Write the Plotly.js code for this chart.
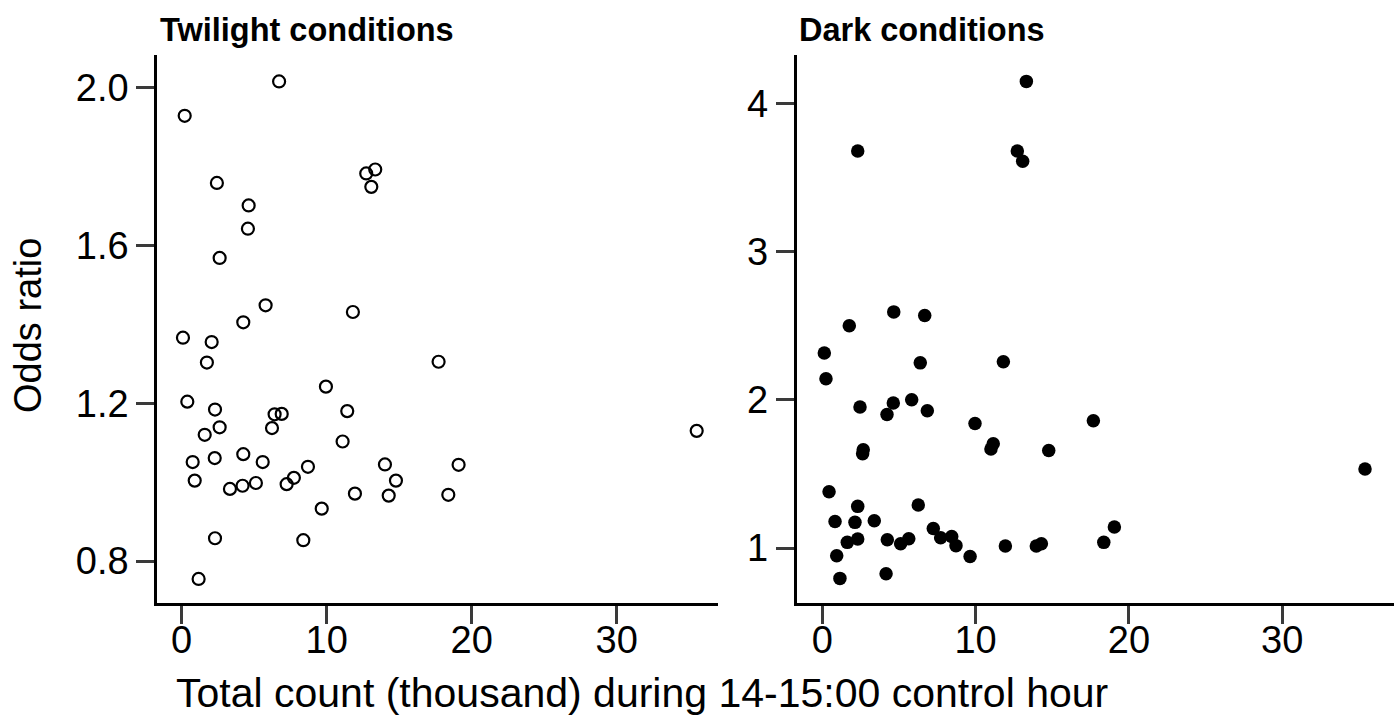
<!DOCTYPE html>
<html>
<head>
<meta charset="utf-8">
<script src="https://cdn.plot.ly/plotly-3.0.1.min.js"></script>
<style>html,body{margin:0;padding:0;background:#fff;}#chart{width:1400px;height:719px;}</style>
</head>
<body>
<div id="chart"></div>
<script>
// Twilight conditions (open circles)
const twilightX = [6.72, 0.21, 2.43, 4.62, 4.57, 2.62, 12.73, 13.35, 13.08, 5.79,
  11.81, 4.25, 0.09, 2.07, 1.74, 0.39, 2.30, 6.41, 6.90, 6.23,
  2.62, 1.59, 9.95, 11.42, 11.10, 0.76, 2.28, 4.25, 5.59, 0.90,
  3.33, 4.20, 5.12, 7.24, 7.74, 8.71, 9.66, 11.95, 14.02, 14.78,
  14.28, 2.30, 8.39, 1.17, 17.72, 19.10, 18.39, 35.52];
const twilightY = [2.015, 1.928, 1.758, 1.701, 1.642, 1.568, 1.782, 1.792, 1.748, 1.448,
  1.431, 1.405, 1.366, 1.355, 1.303, 1.204, 1.184, 1.172, 1.173, 1.137,
  1.139, 1.120, 1.242, 1.180, 1.103, 1.051, 1.061, 1.071, 1.051, 1.004,
  0.983, 0.991, 0.998, 0.995, 1.011, 1.039, 0.933, 0.971, 1.045, 1.004,
  0.966, 0.858, 0.853, 0.755, 1.305, 1.044, 0.968, 1.130];

// Dark conditions (filled circles)
const darkX = [13.31, 2.31, 12.72, 13.07, 4.66, 6.68, 1.76, 0.13, 0.24, 6.39,
  11.81, 2.46, 4.63, 4.22, 5.83, 6.85, 9.96, 11.15, 11.00, 14.77,
  2.67, 2.63, 0.44, 2.31, 6.26, 0.83, 2.13, 3.39, 7.24, 7.72,
  8.44, 8.72, 9.64, 1.63, 2.31, 4.24, 5.11, 5.64, 0.94, 1.15,
  4.16, 11.94, 13.96, 14.29, 17.68, 19.05, 18.36, 35.40];
const darkY = [4.148, 3.678, 3.678, 3.609, 2.593, 2.569, 2.499, 2.315, 2.142, 2.249,
  2.256, 1.951, 1.978, 1.901, 2.000, 1.926, 1.840, 1.703, 1.668, 1.658,
  1.663, 1.636, 1.380, 1.281, 1.290, 1.179, 1.173, 1.184, 1.132, 1.069,
  1.078, 1.016, 0.943, 1.038, 1.061, 1.056, 1.029, 1.063, 0.948, 0.795,
  0.827, 1.013, 1.013, 1.029, 1.858, 1.142, 1.038, 1.533];

const xTicks = [0, 10, 20, 30];
const twilightYTicks = [0.8, 1.2, 1.6, 2.0];
const darkYTicks = [1, 2, 3, 4];

const panelTitles = ["Twilight conditions", "Dark conditions"];
const yTitle = "Odds ratio";
const xTitle = "Total count (thousand) during 14-15:00 control hour";

const W = 1400, H = 719;
const px = v => v / W;
const py = v => 1 - v / H;

const FONT = "Liberation Sans, Arial, sans-serif";
const tickFont = {family: FONT, size: 38, color: "#000"};

const traces = [
  {x: twilightX, y: twilightY, xaxis: "x", yaxis: "y", type: "scatter", mode: "markers",
   marker: {symbol: "circle-open", size: 12, color: "#000", line: {width: 2.2, color: "#000"}},
   hoverinfo: "x+y"},
  {x: darkX, y: darkY, xaxis: "x2", yaxis: "y2", type: "scatter", mode: "markers",
   marker: {symbol: "circle", size: 13.5, color: "#000", line: {width: 0}},
   hoverinfo: "x+y"}
];

const axCommon = {
  showgrid: false, zeroline: false, showline: true, linecolor: "#000", linewidth: 3,
  ticks: "outside", ticklen: 18, tickwidth: 3, tickcolor: "#3a3a3a",
  tickfont: tickFont, mirror: false
};

const layout = {
  width: W, height: H,
  margin: {l: 0, r: 0, t: 0, b: 0},
  paper_bgcolor: "#fff", plot_bgcolor: "#fff",
  showlegend: false,
  xaxis: Object.assign({}, axCommon, {
    domain: [px(157.3), px(718)], range: [-1.68, 36.99], ticklabelstandoff: -17,
    tickvals: xTicks, ticktext: xTicks.map(String), anchor: "y"
  }),
  yaxis: Object.assign({}, axCommon, {
    domain: [py(603), py(55)], range: [0.694, 2.082],
    tickvals: twilightYTicks, ticktext: twilightYTicks.map(v => v.toFixed(1)), anchor: "x"
  }),
  xaxis2: Object.assign({}, axCommon, {
    domain: [px(796.7), px(1394)], range: [-1.67, 37.29], ticklabelstandoff: -17,
    tickvals: xTicks, ticktext: xTicks.map(String), anchor: "y2"
  }),
  yaxis2: Object.assign({}, axCommon, {
    domain: [py(603), py(55)], range: [0.629, 4.326],
    tickvals: darkYTicks, ticktext: darkYTicks.map(String), anchor: "x2"
  }),
  annotations: [
    {text: "<b>" + panelTitles[0] + "</b>", xref: "paper", yref: "paper",
     x: px(158), y: py(30), xanchor: "left", yanchor: "middle", showarrow: false,
     font: {family: FONT, size: 32.5, color: "#000"}},
    {text: "<b>" + panelTitles[1] + "</b>", xref: "paper", yref: "paper",
     x: px(797), y: py(30), xanchor: "left", yanchor: "middle", showarrow: false,
     font: {family: FONT, size: 32.5, color: "#000"}},
    {text: yTitle, xref: "paper", yref: "paper", x: px(28), y: py(326),
     xanchor: "center", yanchor: "middle", textangle: -90, showarrow: false,
     font: {family: FONT, size: 38, color: "#000"}},
    {text: xTitle, xref: "paper", yref: "paper", x: px(642), y: py(693),
     xanchor: "center", yanchor: "middle", showarrow: false, borderpad: 0,
     font: {family: FONT, size: 41, color: "#000"}}
  ]
};

Plotly.newPlot("chart", traces, layout, {displayModeBar: false, staticPlot: true});
</script>
</body>
</html>
